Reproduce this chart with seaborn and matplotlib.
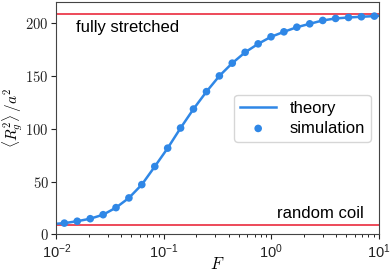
import numpy as np
import pandas as pd
import matplotlib
matplotlib.use("Agg")
import matplotlib.pyplot as plt
from matplotlib.ticker import FuncFormatter
import seaborn as sns

# simulation points (force F, mean squared radius of gyration / a^2)
sim_F = [0.01186, 0.01563, 0.02065, 0.02723, 0.03589, 0.04732, 0.06237, 0.08241,
         0.1086, 0.1432, 0.1888, 0.2495, 0.3289, 0.4335, 0.5715, 0.7551, 0.9954,
         1.312, 1.730, 2.280, 3.013, 3.972, 5.236, 6.902, 9.120]
sim_Rg2 = [10.6, 12.4, 14.8, 18.6, 25.3, 34.5, 47.1, 64.3, 81.7, 100.8, 118.8,
           135.3, 150.2, 162.3, 172.6, 180.6, 187.3, 192.0, 196.4, 199.6, 202.8,
           204.7, 205.6, 206.3, 206.9]

# theory curve
theory_F = [0.01] + sim_F + [10.0]
theory_Rg2 = [10.0] + sim_Rg2 + [207.1]

fully_stretched = 209.3
random_coil = 8.8

blue = "#2f87e6"
red = "#e8192c"

plt.rcParams["mathtext.fontset"] = "cm"
plt.rcParams["font.family"] = ["Liberation Sans", "DejaVu Sans"]

sim = pd.DataFrame({"F": sim_F, "Rg2": sim_Rg2})
theory = pd.DataFrame({"F": theory_F, "Rg2": theory_Rg2})

fig = plt.figure(figsize=(3.9, 2.71), dpi=100)
ax = fig.add_axes([0.1446, 0.1354, 0.8264, 0.8561])

ax.axhline(fully_stretched, color=red, lw=1.1, zorder=1)
ax.axhline(random_coil, color=red, lw=1.1, zorder=1)
sns.lineplot(data=theory, x="F", y="Rg2", ax=ax, color=blue, lw=1.8,
             label="theory", zorder=2)
sns.scatterplot(data=sim, x="F", y="Rg2", ax=ax, color=blue, s=30,
                edgecolor="none", label="simulation", zorder=3)

ax.set_xscale("log")
ax.set_xlim(0.01, 10)
ax.set_ylim(0, 220)
ax.set_yticks([0, 50, 100, 150, 200])
ax.yaxis.set_major_formatter(FuncFormatter(lambda v, p: f"${v:g}$"))
ax.tick_params(labelsize=10.5, colors="#222222", pad=2)
for s in ax.spines.values():
    s.set_color("#444444")

ax.set_xlabel("$F$", fontsize=12)
ax.set_ylabel(r"$\langle R_g^2\rangle\,/a^2$", fontsize=11)
ax.xaxis.set_label_coords(0.5, -0.092)
ax.yaxis.set_label_coords(-0.097, 0.5)

ax.text(0.0152, 196, "fully stretched", fontsize=12, ha="left", va="center")
ax.text(7.24, 19.3, "random coil", fontsize=12, ha="right", va="center")

ax.legend(loc="center right", bbox_to_anchor=(0.975, 0.5), borderaxespad=0,
          fontsize=12, handlelength=2.15, handletextpad=0.8, borderpad=0.35,
          labelspacing=0.3)

fig.savefig("out.png", dpi=100)
